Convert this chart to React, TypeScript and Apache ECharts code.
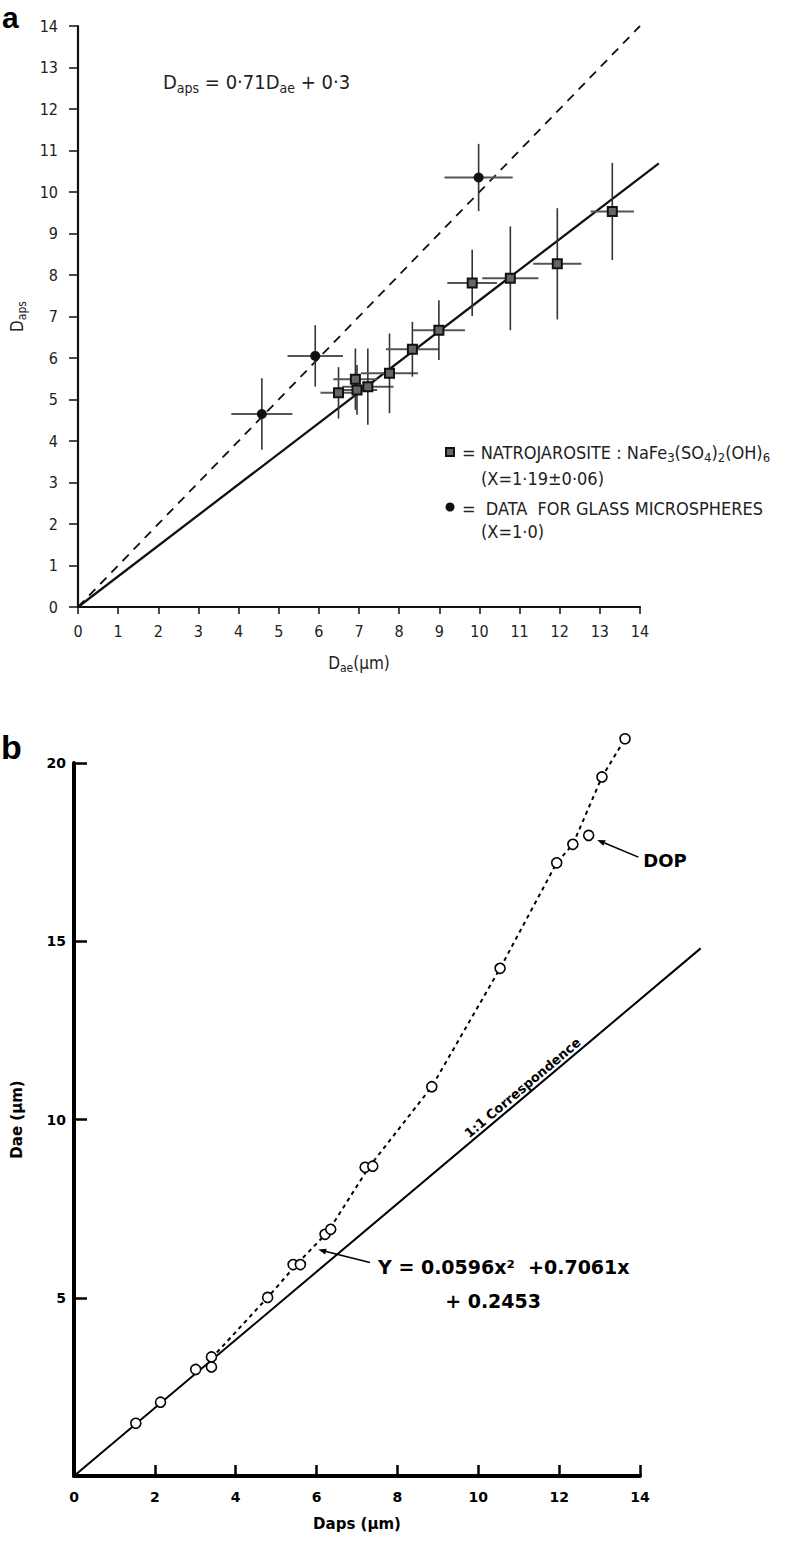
import React, { useEffect, useRef } from "react";
import * as echarts from "echarts";

// ---------- Panel a data (Dae, Daps) ----------
const natroDae = [6.49, 6.91, 6.95, 7.22, 7.76, 8.33, 8.99, 9.82, 10.77, 11.94, 13.31];
const natroDaps = [5.16, 5.49, 5.23, 5.31, 5.63, 6.21, 6.67, 7.81, 7.92, 8.27, 9.53];
const natroDaeErr = [0.45, 0.55, 0.5, 0.64, 0.71, 0.66, 0.65, 0.62, 0.7, 0.6, 0.54];
const natroDapsErr = [0.62, 0.74, 0.6, 0.92, 0.96, 0.66, 0.72, 0.8, 1.25, 1.34, 1.17];

const glassDae = [4.58, 5.91, 9.98];
const glassDaps = [4.65, 6.05, 10.35];
const glassDaeErr = [0.76, 0.69, 0.85];
const glassDapsErr = [0.86, 0.74, 0.81];

const fitLineA = [[0, 0], [14.47, 10.69]];
const oneToOneA = [[0, 0], [14, 14]];

// ---------- Panel b data (Daps, Dae) ----------
const dopDaps = [1.53, 2.14, 3.01, 3.4, 3.4, 4.79, 5.42, 5.6, 6.21, 6.35, 7.2, 7.39, 8.85, 10.54, 11.94, 12.34, 12.73, 13.06, 13.63];
const dopDae = [1.48, 2.07, 2.99, 3.34, 3.06, 5.01, 5.93, 5.93, 6.78, 6.92, 8.66, 8.69, 10.92, 14.24, 17.2, 17.72, 17.97, 19.61, 20.68];
const dopCurve = [[3.4, 3.3], [4.79, 5.01], [5.5, 5.93], [6.28, 6.85], [7.3, 8.67], [8.85, 10.92], [10.54, 14.24], [11.94, 17.2], [12.34, 17.72], [13.06, 19.61], [13.63, 20.68]];
const oneToOneB = [[0, 0], [15.5, 14.8]];

// annotation anchors (data space)
const eqArrowB = [[7.32, 5.99], [6.04, 6.35]];
const dopArrow = [[13.96, 17.36], [12.94, 17.84]];
const dopLabelAt = [14.08, 17.27];
const eqLine1At = [7.52, 5.87];
const eqLine2At = [9.18, 4.92];
const corrLabelAt = [11.2, 10.75];

const NARROW = "'Liberation Sans Narrow','DejaVu Sans Condensed','Roboto Condensed',Roboto,sans-serif";
const BOLDF = "'DejaVu Sans',sans-serif";

const zip4 = (a: number[], b: number[], c: number[], d: number[]) => a.map((v, i) => [v, b[i], c[i], d[i]]);
const zip2 = (a: number[], b: number[]) => a.map((v, i) => [v, b[i]]);
const seg = (s: number[][]) => [[s[0][0], s[0][1], s[1][0], s[1][1]]];

const errRender = (params: any, api: any) => {
  const x = api.value(0), y = api.value(1), ex = api.value(2), ey = api.value(3);
  const l = api.coord([x - ex, y]);
  const r = api.coord([x + ex, y]);
  const t = api.coord([x, y + ey]);
  const b = api.coord([x, y - ey]);
  return {
    type: "group",
    children: [
      { type: "line", shape: { x1: l[0], y1: l[1], x2: r[0], y2: r[1] }, style: { stroke: "#555", lineWidth: 2 } },
      { type: "line", shape: { x1: t[0], y1: t[1], x2: b[0], y2: b[1] }, style: { stroke: "#333", lineWidth: 1.6 } },
    ],
  };
};

const segRender = (style: any) => (params: any, api: any) => {
  const a = api.coord([api.value(0), api.value(1)]);
  const b = api.coord([api.value(2), api.value(3)]);
  return { type: "line", shape: { x1: a[0], y1: a[1], x2: b[0], y2: b[1] }, style };
};

const mkRich = (big: number, small: number) => ({
  b: { fontSize: big, fontFamily: NARROW, color: "#222", lineHeight: big + 6, verticalAlign: "middle" },
  s: { fontSize: small, fontFamily: NARROW, color: "#222", lineHeight: big + 6, verticalAlign: "bottom" },
});

export default function App() {
  const ref = useRef<HTMLDivElement>(null);
  useEffect(() => {
    const chart = echarts.init(ref.current!, null, { renderer: "svg" });
    const axisA = {
      type: "value",
      min: 0,
      max: 14,
      interval: 1,
      splitLine: { show: false },
      axisLine: { show: true, onZero: false, lineStyle: { color: "#111", width: 2.2 } },
      axisTick: { show: true, inside: false, length: 7, lineStyle: { color: "#111", width: 1.5 } },
      axisLabel: { fontSize: 16, fontFamily: NARROW, color: "#222" },
    };
    const axisB = {
      type: "value",
      min: 0,
      splitLine: { show: false },
      axisLine: { show: true, onZero: false, lineStyle: { color: "#000", width: 4 } },
      axisTick: { show: true, inside: true, length: 11, lineStyle: { color: "#000", width: 2.5 } },
      axisLabel: { fontSize: 14, fontWeight: "bold", fontFamily: BOLDF, color: "#000" },
    };
    const option: any = {
      animation: false,
      backgroundColor: "#fff",
      grid: [
        { left: 78, top: 26, width: 562, height: 581, outerBoundsMode: "none" },
        { left: 74, top: 763, width: 566, height: 713, outerBoundsMode: "none" },
      ],
      xAxis: [
        {
          ...axisA,
          gridIndex: 0,
          axisLabel: { ...axisA.axisLabel, margin: 16 },
          name: "{b|D}{s|ae}{b|(μm)}",
          nameLocation: "middle",
          nameGap: 44,
          nameTextStyle: { fontSize: 17, fontFamily: NARROW, color: "#222", rich: mkRich(17, 12) },
        },
        {
          ...axisB,
          gridIndex: 1,
          max: 14,
          interval: 2,
          axisLabel: { ...axisB.axisLabel, margin: 14 },
          name: "Daps (μm)",
          nameLocation: "middle",
          nameGap: 40,
          nameTextStyle: { fontSize: 15, fontWeight: "bold", fontFamily: BOLDF, color: "#000" },
        },
      ],
      yAxis: [
        {
          ...axisA,
          gridIndex: 0,
          axisTick: { ...axisA.axisTick, length: 9 },
          axisLabel: { ...axisA.axisLabel, margin: 20 },
          name: "{b|D}{s|aps}",
          nameLocation: "middle",
          nameGap: 50,
          nameRotate: 90,
          nameTextStyle: { fontSize: 17, fontFamily: NARROW, color: "#222", rich: mkRich(17, 12) },
        },
        {
          ...axisB,
          gridIndex: 1,
          max: 20,
          interval: 5,
          axisTick: { ...axisB.axisTick, length: 13 },
          axisLabel: { ...axisB.axisLabel, margin: 8, formatter: (v: number) => (v === 0 ? "" : String(v)) },
          name: "Dae (μm)",
          nameLocation: "middle",
          nameGap: 50,
          nameRotate: 90,
          nameTextStyle: { fontSize: 15, fontWeight: "bold", fontFamily: BOLDF, color: "#000" },
        },
      ],
      series: [
        {
          type: "custom", xAxisIndex: 0, yAxisIndex: 0, clip: false, encode: { x: [0, 2], y: [1, 3] },
          renderItem: segRender({ stroke: "#111", lineWidth: 1.8, lineDash: [9, 7] }), data: seg(oneToOneA), z: 2,
        },
        {
          type: "custom", xAxisIndex: 0, yAxisIndex: 0, clip: false, encode: { x: [0, 2], y: [1, 3] },
          renderItem: segRender({ stroke: "#111", lineWidth: 2.3 }), data: seg(fitLineA), z: 2,
        },
        {
          type: "custom", xAxisIndex: 0, yAxisIndex: 0, clip: false, renderItem: errRender,
          encode: { x: 0, y: 1 }, data: zip4(natroDae, natroDaps, natroDaeErr, natroDapsErr), z: 3,
        },
        {
          type: "custom", xAxisIndex: 0, yAxisIndex: 0, clip: false, renderItem: errRender,
          encode: { x: 0, y: 1 }, data: zip4(glassDae, glassDaps, glassDaeErr, glassDapsErr), z: 3,
        },
        {
          type: "scatter", xAxisIndex: 0, yAxisIndex: 0, data: zip2(natroDae, natroDaps), symbol: "rect", symbolSize: 9,
          itemStyle: { color: "#666", borderColor: "#111", borderWidth: 2, opacity: 1 }, z: 5,
        },
        {
          type: "scatter", xAxisIndex: 0, yAxisIndex: 0, data: zip2(glassDae, glassDaps), symbol: "circle", symbolSize: 10,
          itemStyle: { color: "#111", opacity: 1 }, z: 5,
        },
        {
          type: "custom", xAxisIndex: 1, yAxisIndex: 1, clip: false, encode: { x: [0, 2], y: [1, 3] },
          renderItem: segRender({ stroke: "#000", lineWidth: 2 }), data: seg(oneToOneB), z: 2,
        },
        {
          type: "line", xAxisIndex: 1, yAxisIndex: 1, data: dopCurve, symbol: "none", clip: false,
          lineStyle: { color: "#000", width: 2, type: [4, 4] }, z: 2,
        },
        {
          type: "scatter", xAxisIndex: 1, yAxisIndex: 1, data: zip2(dopDaps, dopDae), symbol: "circle", symbolSize: 10, clip: false,
          itemStyle: { color: "#fff", borderColor: "#000", borderWidth: 1.6, opacity: 1 }, z: 5,
        },
      ],
    };
    chart.setOption(option);

    const px = (g: number, p: number[]) => chart.convertToPixel({ gridIndex: g }, p) as number[];
    const arrow = (g: number, s: number[][]) => {
      const a = px(g, s[0]);
      const b = px(g, s[1]);
      const dx = b[0] - a[0], dy = b[1] - a[1];
      const len = Math.hypot(dx, dy);
      const ux = dx / len, uy = dy / len;
      const hx = b[0] - ux * 8, hy = b[1] - uy * 8;
      return [
        { type: "line", shape: { x1: a[0], y1: a[1], x2: hx, y2: hy }, style: { stroke: "#000", lineWidth: 1.6 } },
        {
          type: "polygon",
          shape: { points: [[b[0], b[1]], [hx - uy * 3, hy + ux * 3], [hx + uy * 3, hy - ux * 3]] },
          style: { fill: "#000" },
        },
      ];
    };
    const l0 = px(1, oneToOneB[0]);
    const l1 = px(1, oneToOneB[1]);
    const ang = Math.atan2(-(l1[1] - l0[1]), l1[0] - l0[0]);
    const c = px(1, corrLabelAt);
    const off = 6.5;
    const cx = c[0] - Math.sin(ang) * off;
    const cy = c[1] - Math.cos(ang) * off;
    const dopL = px(1, dopLabelAt);
    const e1 = px(1, eqLine1At);
    const e2 = px(1, eqLine2At);
    const legendRich = mkRich(18, 13);

    chart.setOption({
      graphic: [
        { type: "text", x: 2, y: 2, style: { text: "a", fontSize: 30, lineHeight: 30, fontWeight: "bold", fontFamily: "'Liberation Sans',Arial,sans-serif", fill: "#000", verticalAlign: "top" } },
        { type: "text", x: 1, y: 732, style: { text: "b", fontSize: 34, lineHeight: 30, fontWeight: "bold", fontFamily: "'Liberation Sans',Arial,sans-serif", fill: "#000", verticalAlign: "top" } },
        {
          type: "text", x: 163, y: 82,
          style: { text: "{b|D}{s|aps}{b| = 0·71D}{s|ae}{b| + 0·3}", rich: mkRich(20, 14), verticalAlign: "middle", fill: "#222" },
        },
        // legend, panel a
        { type: "rect", shape: { x: 446, y: 448, width: 8, height: 8 }, style: { fill: "#666", stroke: "#111", lineWidth: 2 } },
        {
          type: "text", x: 462, y: 452,
          style: {
            text: "{b|= NATROJAROSITE : NaFe}{s|3}{b|(SO}{s|4}{b|)}{s|2}{b|(OH)}{s|6}",
            rich: legendRich, verticalAlign: "middle", fill: "#222",
          },
        },
        { type: "text", x: 481, y: 478, style: { text: "(X=1·19±0·06)", fontSize: 18, fontFamily: NARROW, fill: "#222", verticalAlign: "middle" } },
        { type: "circle", shape: { cx: 450, cy: 507, r: 4.5 }, style: { fill: "#111" } },
        { type: "text", x: 462, y: 508, style: { text: "=  DATA  FOR GLASS MICROSPHERES", fontSize: 18, fontFamily: NARROW, fill: "#222", verticalAlign: "middle" } },
        { type: "text", x: 481, y: 531, style: { text: "(X=1·0)", fontSize: 18, fontFamily: NARROW, fill: "#222", verticalAlign: "middle" } },
        // panel b annotations
        {
          type: "text", x: cx, y: cy, rotation: ang,
          style: { text: "1:1 Correspondence", x: 0, y: 0, fontSize: 13, fontWeight: "bold", fontFamily: BOLDF, fill: "#000", align: "center", verticalAlign: "middle" },
        },
        { type: "text", x: dopL[0], y: dopL[1], style: { text: "DOP", fontSize: 18, fontWeight: "bold", fontFamily: BOLDF, fill: "#000", verticalAlign: "middle" } },
        ...arrow(1, dopArrow),
        ...arrow(1, eqArrowB),
        { type: "text", x: e1[0], y: e1[1], style: { text: "Y = 0.0596x²  +0.7061x", fontSize: 19, fontWeight: "bold", fontFamily: BOLDF, fill: "#000", verticalAlign: "middle" } },
        { type: "text", x: e2[0], y: e2[1], style: { text: "+ 0.2453", fontSize: 19, fontWeight: "bold", fontFamily: BOLDF, fill: "#000", verticalAlign: "middle" } },
      ],
    });
    return () => chart.dispose();
  }, []);
  return <div ref={ref} style={{ position: "absolute", left: 0, top: 0, width: 799, height: 1544, background: "#fff" }} />;
}
